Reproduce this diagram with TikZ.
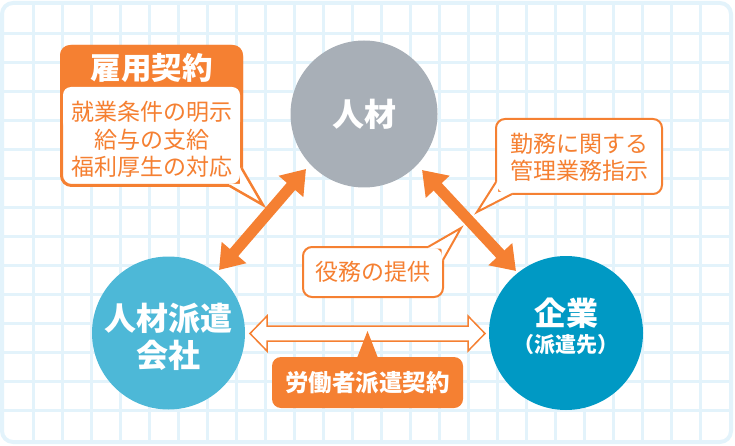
\documentclass[tikz,border=0pt]{standalone}
\usepackage{fontspec}
\setmainfont{Noto Sans CJK JP}
\usetikzlibrary{arrows.meta}
\definecolor{corange}{HTML}{F58032}
\definecolor{cgray}{HTML}{A8AFB7}
\definecolor{clblue}{HTML}{4DB8D7}
\definecolor{cdblue}{HTML}{0099C4}
\definecolor{gridblue}{HTML}{E3F3FB}
\tikzset{
  gridline/.style={draw=gridblue, line width=3},
  circ/.style={circle, inner sep=0pt},
  bigtext/.style={text=white, font=\fontsize{32}{37}\selectfont\bfseries, align=center, inner sep=0pt},
  midtext/.style={text=white, font=\fontsize{21}{24}\selectfont\bfseries, inner sep=0pt},
  smalltext/.style={text=corange, font=\fontsize{23}{27.5}\selectfont, align=center, inner sep=0pt},
  labeltext/.style={text=white, font=\fontsize{23.5}{27.5}\selectfont\bfseries, inner sep=0pt},
  thickarrow/.style={draw=corange, line width=11, {Triangle[width=31pt,length=23pt]}-{Triangle[width=31pt,length=23pt]}},
  bubble/.style={fill=white, draw=corange, line width=2, rounded corners=9},
  tailline/.style={draw=corange, line width=2, line join=miter},
}
\begin{document}
\begin{tikzpicture}[x=1pt,y=-1pt]
\useasboundingbox (0,0) rectangle (735,446);
% grid background
\begin{scope}
\clip[rounded corners=11] (2,3) rectangle (731,442);
\foreach \i in {0,...,23} \draw[gridline] ({33+29*\i},0) -- ({33+29*\i},446);
\foreach \j in {0,...,13} \draw[gridline] (0,{33.5+29*\j}) -- (735,{33.5+29*\j});
\end{scope}
\draw[gridblue, line width=4, rounded corners=11] (2,3) rectangle (731,442);

% circles
\node[circ, fill=cgray, minimum size=147] (hr) at (364,114) {};
\node[circ, fill=clblue, minimum size=153] (agency) at (168.5,333) {};
\node[circ, fill=cdblue, minimum size=154] (corp) at (566,333) {};
\node[bigtext] (hrtext) at (hr) {人材};
\node[bigtext] (agencytext) at (168.5,336.5) {人材派遣\\会社};
\node[bigtext] (corptext) at (566,313) {企業};
\node[midtext] (corpsub) at (566,345) {（派遣先）};

% thick arrows
\coordinate (la) at (219,270);
\coordinate (lb) at (306,169);
\coordinate (ra) at (422,170);
\coordinate (rb) at (516,271);
\draw[thickarrow] (la) -- (lb);
\draw[thickarrow] (ra) -- (rb);

% hollow double arrow
\coordinate (ha) at (250,333.5);
\coordinate (hb) at (485,333.5);
\draw[draw=corange, fill=white, line width=1.5, line join=miter]
  (ha) -- ++(17,-17.5) -- ++(0,10) -- ++(201,0) -- ++(0,-10) -- (hb)
  -- ++(-17,17.5) -- ++(0,-10) -- ++(-201,0) -- ++(0,10) -- cycle;

% 労働者派遣契約 label
\fill[corange] (357,358) -- (367.5,331) -- (378,358) -- cycle;
\fill[corange, rounded corners=9] (272,357) rectangle (463,408);
\node[labeltext] (dispatch) at (367.5,382.5) {労働者派遣契約};

% 雇用契約 callout
\draw[fill=white, draw=corange, line width=3, rounded corners=10] (61.5,46.5) rectangle (241.5,185.5);
\fill[white] (240,168) -- (243,168) -- (263,205) -- (229,187) -- (229,184) -- (240,184) -- cycle;
\draw[draw=corange, line width=2.5, line join=miter] (241.5,168) -- (263,205) -- (229,185.5);
\fill[corange, rounded corners=10] (60,45) rectangle (243,110);
\fill[white, rounded corners=8] (63,87) rectangle (240,130);
\node[text=white, font=\fontsize{30.5}{34}\selectfont\bfseries, inner sep=0pt] (koyo) at (151.5,67.5) {雇用契約};
\node[smalltext] (koyobody) at (152,139.5) {就業条件の明示\\給与の支給\\福利厚生の対応};

% 勤務に関する callout
\draw[bubble] (496,119) rectangle (662,194);
\fill[white] (494.5,182) -- (477,212) -- (512,195.5) -- (512,192) -- (498,192) -- (498,182) -- cycle;
\draw[tailline] (496,182) -- (477,212) -- (512,194);
\node[smalltext] (kinmu) at (579,157.5) {勤務に関する\\管理業務指示};

% 役務の提供 callout
\draw[bubble] (303,247) rectangle (443,297);
\fill[white] (428,248.5) -- (428,245.5) -- (461,228) -- (444.5,260) -- (441.5,260) -- (441.5,248.5) -- cycle;
\draw[tailline] (428,247) -- (461,228) -- (443,260);
\node[smalltext] (ekimu) at (373,272) {役務の提供};
\end{tikzpicture}
\end{document}
